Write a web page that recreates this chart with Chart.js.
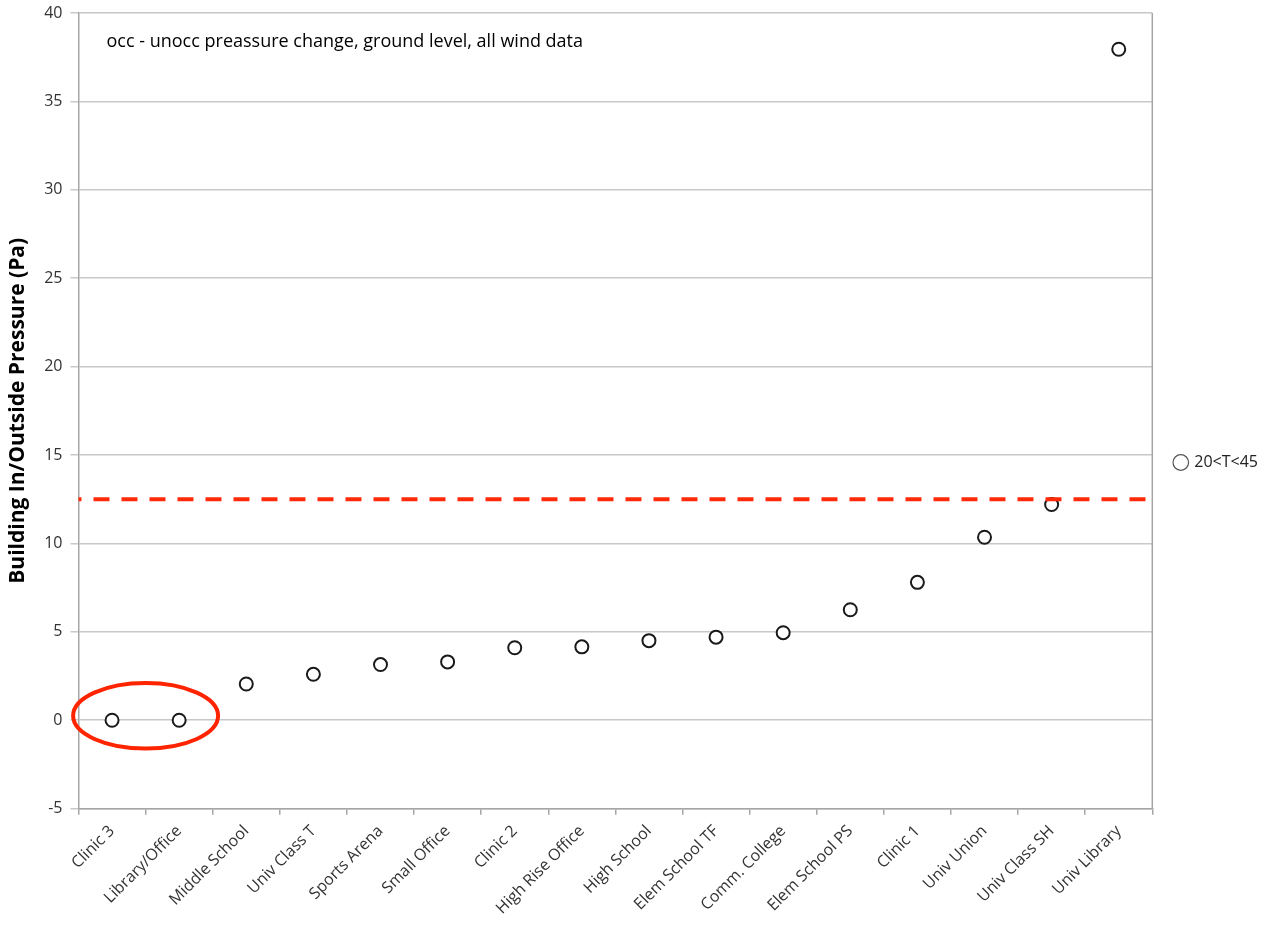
<!DOCTYPE html>
<html>
<head>
<meta charset="utf-8">
<script src="https://cdn.jsdelivr.net/npm/chart.js@4"></script>
<style>
  html, body { margin: 0; padding: 0; background: #fff; }
  #wrap { width: 1268px; height: 925px; }
</style>
</head>
<body>
<div id="wrap"><canvas id="myChart"></canvas></div>
<script>
const buildings = ['Clinic 3', 'Library/Office', 'Middle School', 'Univ Class T', 'Sports Arena',
  'Small Office', 'Clinic 2', 'High Rise Office', 'High School', 'Elem School TF', 'Comm. College',
  'Elem School PS', 'Clinic 1', 'Univ Union', 'Univ Class SH', 'Univ Library'];
const pressure = [0, 0, 2.05, 2.6, 3.15, 3.3, 4.1, 4.15, 4.5, 4.7, 4.95, 6.25, 7.8, 10.35, 12.2, 37.95];
const seriesName = '20<T<45';
const limitValue = 12.5;
const noteText = 'occ - unocc preassure change, ground level, all wind data';
const yTicks = [-5, 0, 5, 10, 15, 20, 25, 30, 35, 40];

const fontFamily = '"Open Sans", "DejaVu Sans", sans-serif';

// dashed limit line, red ellipse and the note inside the plot
const extras = {
  id: 'extras',
  afterDatasetsDraw(chart) {
    const { ctx, chartArea, scales } = chart;
    const x = scales.x, y = scales.y;
    ctx.save();

    const yl = y.getPixelForValue(limitValue);
    ctx.strokeStyle = '#ff2a0a';
    ctx.lineWidth = 4;
    ctx.setLineDash([16, 12]);
    ctx.lineDashOffset = -15;
    ctx.beginPath();
    ctx.moveTo(chartArea.left, yl);
    ctx.lineTo(chartArea.right - 4, yl);
    ctx.stroke();

    ctx.setLineDash([]);
    const cx = (x.getPixelForValue(0) + x.getPixelForValue(1)) / 2;
    const step = x.getPixelForValue(1) - x.getPixelForValue(0);
    const cy = y.getPixelForValue(0.25);
    const ry = Math.abs(y.getPixelForValue(1.85) - y.getPixelForValue(0));
    ctx.strokeStyle = '#ff2400';
    ctx.lineWidth = 4;
    ctx.beginPath();
    ctx.ellipse(cx, cy, step * 1.08, ry, 0, 0, Math.PI * 2);
    ctx.stroke();

    ctx.fillStyle = '#000';
    ctx.font = '18px ' + fontFamily;
    ctx.textBaseline = 'middle';
    ctx.fillText(noteText, chartArea.left + 28, chartArea.top + 29);
    ctx.restore();
  }
};

// right border of the plot area
const frame = {
  id: 'frame',
  beforeDatasetsDraw(chart) {
    const { ctx, chartArea } = chart;
    ctx.save();
    ctx.strokeStyle = '#a6a6a6';
    ctx.lineWidth = 1.5;
    ctx.beginPath();
    ctx.moveTo(chartArea.right, chartArea.top);
    ctx.lineTo(chartArea.right, chartArea.bottom);
    ctx.stroke();
    ctx.restore();
  }
};

new Chart(document.getElementById('myChart'), {
  type: 'line',
  data: {
    labels: buildings,
    datasets: [{
      label: seriesName,
      data: pressure,
      showLine: false,
      pointRadius: 6.5,
      pointHoverRadius: 6.5,
      pointBorderWidth: 2,
      pointBorderColor: '#1a1a1a',
      pointBackgroundColor: '#fff'
    }]
  },
  options: {
    responsive: true,
    maintainAspectRatio: false,
    animation: false,
    layout: { padding: { top: 0, right: 0, bottom: 0, left: 5 } },
    plugins: {
      legend: {
        position: 'right',
        labels: {
          usePointStyle: true,
          pointStyle: 'circle',
          boxWidth: 11,
          boxHeight: 11,
          padding: 23,
          color: '#222',
          font: { family: fontFamily, size: 16 },
          generateLabels(chart) {
            return [{
              text: seriesName,
              pointStyle: 'circle',
              fillStyle: '#fff',
              strokeStyle: '#555',
              lineWidth: 1.2,
              fontColor: '#222',
              datasetIndex: 0
            }];
          }
        }
      },
      tooltip: { enabled: false }
    },
    scales: {
      x: {
        offset: true,
        grid: {
          offset: true,
          drawOnChartArea: false,
          color: '#a6a6a6',
          tickLength: 6,
          lineWidth: 1.5
        },
        border: { color: '#a6a6a6', width: 1.5 },
        ticks: {
          autoSkip: false,
          minRotation: 45,
          maxRotation: 45,
          padding: 7,
          color: '#333',
          font: { family: fontFamily, size: 16 }
        }
      },
      y: {
        min: -5,
        max: 40,
        afterBuildTicks(axis) { axis.ticks = yTicks.map(v => ({ value: v })); },
        afterFit(axis) { axis.paddingTop = 13; },
        grid: { color: '#c8c8c8', lineWidth: 1.5, tickLength: 8 },
        border: { color: '#a6a6a6', width: 1.5 },
        ticks: {
          padding: 8,
          color: '#333',
          font: { family: fontFamily, size: 16 }
        },
        title: {
          display: true,
          text: 'Building In/Outside Pressure (Pa)',
          color: '#000',
          font: { family: fontFamily, size: 21, weight: 'bold' },
          padding: { top: 0, bottom: 6 }
        }
      }
    }
  },
  plugins: [frame, extras]
});
</script>
</body>
</html>
